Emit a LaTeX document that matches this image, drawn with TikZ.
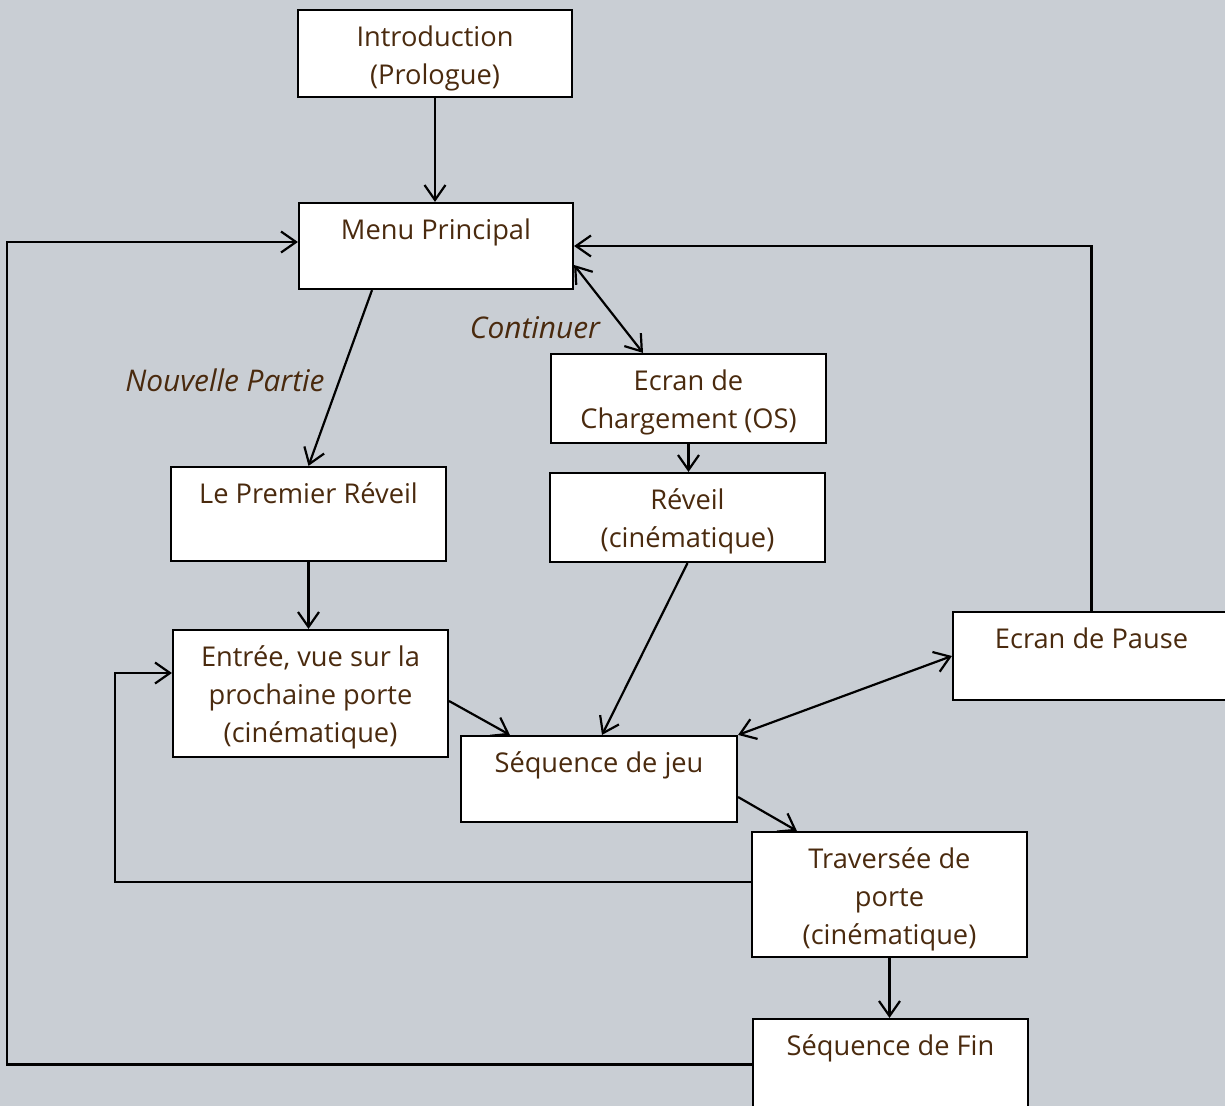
\documentclass[tikz,border=0pt]{standalone}
\usepackage{fontspec}
\setmainfont{Open Sans}
\usetikzlibrary{arrows.meta}
\definecolor{fond}{HTML}{C9CED4}
\definecolor{brun}{HTML}{4A2A0E}

\begin{document}
\begin{tikzpicture}[x=0.02cm,y=-0.02cm, line width=1.25pt,
  every node/.style={font=\fontsize{15.5}{21.6}\selectfont, text=brun},
  >={Straight Barb[length=0.3cm,width=0.42cm]},
  boite/.style={draw=black, fill=white, line width=1.25pt, inner sep=0pt, minimum width=5.5cm, minimum height=#1},
  titre/.style={anchor=north, align=center, inner sep=0pt, yshift=-0.2cm},
  choix/.style={font=\fontsize{17}{21.6}\selectfont\itshape}]
\fill[fond] (0,0) rectangle (1225,1106);
\useasboundingbox (0,0) rectangle (1225,1106);
% boites
\node[boite=1.74cm, minimum width=5.48cm, label={[titre]north:{\strut Introduction\\(Prologue)}}] (intro) at (435,53.5) {};
\node[boite=1.72cm, minimum width=5.48cm, label={[titre]north:\strut Menu Principal}] (menu) at (436,246) {};
\node[boite=1.78cm, label={[titre]north:{\strut Ecran de\\Chargement (OS)}}] (charg) at (688.5,398.5) {};
\node[boite=1.78cm, label={[titre]north:{\strut Réveil\\(cinématique)}}] (reveil) at (687.5,517.5) {};
\node[boite=1.88cm, label={[titre]north:\strut Le Premier Réveil}] (premier) at (308.5,514) {};
\node[boite=2.54cm, label={[titre]north:{\strut Entrée, vue sur la\\prochaine porte\\(cinématique)}}] (entree) at (310.5,693.5) {};
\node[boite=1.72cm, minimum width=5.52cm, label={[titre]north:\strut Séquence de jeu}] (seqjeu) at (599,779) {};
\node[boite=1.76cm, minimum width=5.54cm, label={[titre]north:\strut Ecran de Pause}] (pause) at (1091.5,656) {};
\node[boite=2.5cm, label={[titre]north:{\strut Traversée de\\porte\\(cinématique)}}] (travers) at (889.5,894.5) {};
\node[boite=1.82cm, label={[titre]north:\strut Séquence de Fin}] (fin) at (890.5,1064.5) {};
% choix du menu
\node[choix] (nouvelle) at (225,380) {Nouvelle Partie};
\node[choix] (continuer) at (535,328) {Continuer};
% liaisons
\draw[->] (intro.south) -- (intro.south |- menu.north);
\draw[->] ([xshift=-1.28cm]menu.south) -- (premier.north);
\draw[<->] ([yshift=-0.38cm]menu.east) -- ([xshift=-0.91cm]charg.north);
\draw[->] (charg.south) -- (charg.south |- reveil.north);
\draw[->] (premier.south) -- (premier.south |- entree.north);
\draw[->] (reveil.south) -- ([xshift=0.06cm]seqjeu.north);
\draw[->] ([yshift=-0.15cm]entree.east) -- ([xshift=1cm]seqjeu.north west);
\draw[<->] (pause.west) -- (seqjeu.north east);
\draw[->] ([yshift=-0.36cm]seqjeu.east) -- ([xshift=0.92cm]travers.north west);
\draw[->] ([yshift=0.25cm]travers.west) -- ++(-636,0) |- ([yshift=0.41cm]entree.west);
\draw[->] (travers.south) -- (travers.south |- fin.north);
\draw[->] (fin.west) -- ++(-745,0) |- ([yshift=0.08cm]menu.west);
\draw[->] (pause.north) |- (menu.east);
\end{tikzpicture}
\end{document}
